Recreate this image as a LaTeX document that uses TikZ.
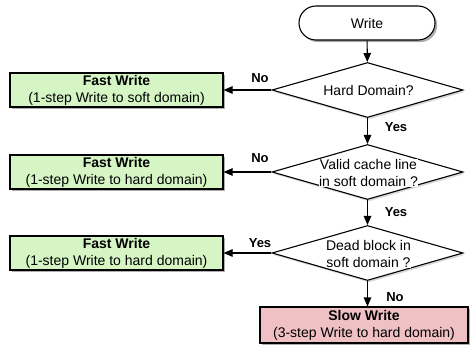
\documentclass[tikz,border=0pt]{standalone}
\usepackage{fontspec}
\setmainfont{Liberation Sans}
\usetikzlibrary{shapes.geometric,arrows.meta,shadows}
\definecolor{fastgreen}{RGB}{213,246,196}
\definecolor{slowpink}{RGB}{239,192,196}
\tikzset{
  base/.style={draw, line width=1.1pt, inner sep=0pt, align=center,
    font=\fontsize{14}{17}\selectfont},
  shadowed/.style={drop shadow={shadow xshift=2.2pt, shadow yshift=-2.2pt, opacity=0.45, fill=black!70}},
  lightshadow/.style={drop shadow={shadow xshift=1.5pt, shadow yshift=-2pt, opacity=0.25, fill=black!60}},
  fastbox/.style={base, shadowed, fill=fastgreen, minimum width=213pt, minimum height=34pt},
  slowbox/.style={base, shadowed, fill=slowpink, minimum width=208pt, minimum height=36pt},
  terminal/.style={base, shadowed, fill=white, rounded corners=17pt, minimum width=136pt, minimum height=34pt},
  decision/.style={diamond, draw, line width=1.1pt, fill=white, lightshadow, inner sep=0pt, minimum width=191pt, minimum height=55pt},
  dtext/.style={fill=white, inner sep=0pt, align=center, font=\fontsize{14}{17}\selectfont},
  lbl/.style={font=\bfseries\fontsize{13}{15}\selectfont, inner sep=0pt},
  arr/.style={line width=1.1pt, -{Triangle[length=9pt,width=7.5pt]}}
}
\begin{document}
\begin{tikzpicture}[x=1pt,y=-1pt]
\useasboundingbox (0,0) rectangle (470,345);
\node[terminal] (w) at (367,23) {Write};
\node[decision] (d1) at (367.5,90) {};
\node[dtext] (d1t) at (368.5,90) {Hard Domain?};
\node[decision] (d2) at (367.5,172) {};
\node[dtext] (d2t) at (368.5,173) {Valid cache line\\in soft domain ?};
\node[decision] (d3) at (367.5,253) {};
\node[dtext] (d3t) at (368.5,254) {Dead block in\\soft domain ?};
\node[fastbox] (f1) at (116.5,90) {\textbf{Fast Write}\\(1-step Write to soft domain)};
\node[fastbox] (f2) at (116.5,172) {\textbf{Fast Write}\\(1-step Write to hard domain)};
\node[fastbox] (f3) at (116.5,253) {\textbf{Fast Write}\\(1-step Write to hard domain)};
\node[slowbox] (s) at (364,325) {\textbf{Slow Write}\\(3-step Write to hard domain)};
\draw[arr] (w) -- (d1);
\draw[arr] (d1) -- (d2);
\draw[arr] (d2) -- (d3);
\draw[arr] (d3.south) -- (d3.south |- s.north);
\draw[arr] (d1.west) -- (f1.east);
\draw[arr] (d2.west) -- (f2.east);
\draw[arr] (d3.west) -- (f3.east);
\node[lbl] (n1) at (260,78) {No};
\node[lbl] (y1) at (396,127) {Yes};
\node[lbl] (n2) at (260,158) {No};
\node[lbl] (y2) at (396,212) {Yes};
\node[lbl] (y3) at (260,243) {Yes};
\node[lbl] (n3) at (395,297) {No};
\end{tikzpicture}
\end{document}
